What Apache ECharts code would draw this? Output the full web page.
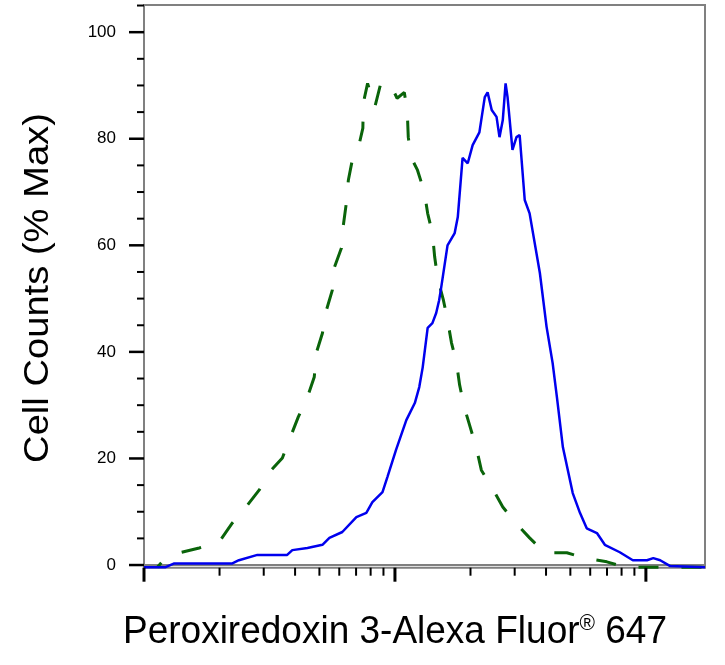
<!DOCTYPE html>
<html>
<head>
<meta charset="utf-8">
<script src="https://cdn.jsdelivr.net/npm/echarts@6/dist/echarts.min.js"></script>
<style>
html, body { margin: 0; padding: 0; background: #fff; }
#chart { width: 725px; height: 665px; }
</style>
</head>
<body>
<div id="chart"></div>
<script>
// 同型对照 (绿色虚线) —— x: 荧光强度 (对数), y: % Max
var isotypeX = [1.13, 1.18, 1.41, 1.66, 1.99, 2.25, 2.55, 2.88, 3.21, 3.56, 3.86, 4.12, 4.48, 4.77, 4.86, 5.14,
    5.33, 5.63, 5.74, 6.12, 6.23, 6.40, 6.52, 6.76, 7.14, 7.45, 7.48, 7.78, 8.31, 8.76, 9.5, 10.2, 10.9, 11.2,
    11.3, 11.6, 12.3, 13.1, 13.5, 14.1, 14.4, 14.8, 15.6, 16.2, 16.8, 17.6, 18.1, 18.9, 20.0, 21.1, 22.1, 24.3,
    26.9, 30.0, 34.4, 39.5, 48.4, 57.1, 69.9, 82.5, 172];
var isotypeY = [-0.4, 0.6, 2.4, 3.2, 4.3, 7.9, 10.9, 14.1, 17.8, 20.1, 24.4, 27.8, 31.5, 35.3, 39.8, 43.5,
    47.8, 51.6, 55.9, 59.5, 63.8, 67.9, 72.2, 76.0, 78.2, 82.0, 86.7, 90.4, 85.9, 90.2, 90.6, 87.6, 88.7, 85.0,
    80.3, 76.5, 74.1, 70.0, 66.0, 62.3, 57.8, 53.8, 49.7, 46.0, 41.7, 37.9, 33.8, 29.6, 25.7, 22.0, 17.8, 14.6,
    10.9, 8.1, 5.1, 2.3, 2.3, 1.3, 0.6, -0.4, -0.4];

// Peroxiredoxin 3 染色 (蓝色实线)
var stainedX = [1.0, 1.22, 1.32, 2.25, 2.39, 2.83, 3.72, 3.90, 4.48, 5.14, 5.48, 6.17, 7.02, 7.69, 8.13, 8.92,
    9.33, 10.1, 11.1, 12.0, 12.5, 12.9, 13.5, 14.1, 14.6, 15.0, 15.3, 16.2, 17.3, 17.8, 18.6, 19.5, 20.4, 21.7,
    22.8, 23.4, 24.3, 25.4, 26.1, 26.9, 27.6, 28.1, 29.4, 30.5, 31.4, 32.9, 34.4, 37.8, 40.2, 42.5, 44.2, 46.7,
    51.1, 54.6, 58.1, 63.8, 68.6, 78.7, 88.7, 101, 107, 114, 125, 172];
var stainedY = [-0.4, -0.4, 0.3, 0.3, 0.9, 1.9, 1.9, 2.8, 3.2, 3.8, 5.1, 6.2, 9.0, 9.8, 11.8, 13.7,
    16.5, 21.6, 27.2, 30.4, 33.4, 37.1, 44.5, 45.4, 47.3, 49.7, 52.2, 60.0, 62.3, 65.3, 76.4, 75.4, 78.8, 81.2,
    87.8, 88.7, 85.4, 84.1, 80.3, 83.5, 90.4, 87.8, 77.9, 80.3, 80.7, 68.5, 66.0, 54.8, 44.7, 37.9, 31.5, 22.1,
    13.5, 9.8, 6.9, 6.0, 3.8, 2.4, 0.9, 0.9, 1.3, 0.9, -0.2, -0.4];

// 刻度
var yLabelTicks = [0, 20, 40, 60, 80, 100];
var yMinorTicks = [5, 10, 15, 25, 30, 35, 45, 50, 55, 65, 70, 75, 85, 90, 95, 105];
var xMajorTicks = [1, 10, 100];
var xMinorTicks = [2, 3, 4, 5, 6, 7, 8, 9, 20, 30, 40, 50, 60, 70, 80, 90];

var xMin = 1, xMax = 172, yMin = -0.5, yMax = 105.1;

function zip(xs, ys) {
    return xs.map(function (x, i) { return [x, ys[i]]; });
}

// 刻度线: [x, y, 类型] 0=y主 1=y次 2=x主 3=x次
var tickData = [];
yLabelTicks.forEach(function (v) { tickData.push([xMin, v, 0]); });
yMinorTicks.forEach(function (v) { tickData.push([xMin, v, 1]); });
xMajorTicks.forEach(function (v) { tickData.push([v, yMin, 2]); });
xMinorTicks.forEach(function (v) { tickData.push([v, yMin, 3]); });

var tickLen = [15, 7, 14, 8];
var tickWidth = [2.5, 2, 3, 2];

var myChart = echarts.init(document.getElementById('chart'));
var font = '"Liberation Sans", Arial, Helvetica, sans-serif';

var option = {
    animation: false,
    backgroundColor: '#fff',
    grid: {
        left: 144,
        right: 20,
        top: 5,
        bottom: 97.3,
        show: true,
        borderColor: '#808080',
        borderWidth: 2
    },
    xAxis: {
        type: 'log',
        logBase: 10,
        min: xMin,
        max: xMax,
        axisLine: { lineStyle: { color: '#808080', width: 2 } },
        axisTick: { show: false },
        axisLabel: { show: false },
        splitLine: { show: false },
        minorTick: { show: false }
    },
    yAxis: {
        type: 'value',
        min: yMin,
        max: yMax,
        axisLine: { show: true, lineStyle: { color: '#808080', width: 2 } },
        axisTick: { show: false },
        splitLine: { show: false },
        axisLabel: {
            customValues: yLabelTicks,
            margin: 28,
            fontSize: 17,
            fontFamily: font,
            color: '#000'
        }
    },
    graphic: [
        {
            type: 'text',
            x: 395,
            y: 632,
            scaleY: 1.05,
            style: {
                text: 'Peroxiredoxin 3-Alexa Fluor{r|®} 647',
                font: '37px ' + font,
                fill: '#000',
                textAlign: 'center',
                textVerticalAlign: 'middle',
                rich: {
                    r: { fontSize: 21, fontFamily: font, verticalAlign: 'top', fill: '#000' }
                }
            }
        },
        {
            type: 'text',
            x: 38,
            y: 288,
            rotation: Math.PI / 2,
            scaleX: 1.09,
            style: {
                text: 'Cell Counts (% Max)',
                font: '35px ' + font,
                fill: '#000',
                textAlign: 'center',
                textVerticalAlign: 'middle'
            }
        }
    ],
    series: [
        {
            name: 'isotype',
            type: 'line',
            data: zip(isotypeX, isotypeY),
            showSymbol: false,
            symbol: 'none',
            lineStyle: { color: '#0a640a', width: 3, type: [20, 23], dashOffset: 14 },
            z: 3
        },
        {
            name: 'Peroxiredoxin 3',
            type: 'line',
            data: zip(stainedX, stainedY),
            showSymbol: false,
            symbol: 'none',
            lineStyle: { color: '#0000ee', width: 2.5 },
            z: 4
        },
        {
            name: 'ticks',
            type: 'custom',
            silent: true,
            data: tickData,
            encode: { x: 0, y: 1 },
            z: 5,
            renderItem: function (params, api) {
                var kind = api.value(2);
                var p = api.coord([api.value(0), api.value(1)]);
                var len = tickLen[kind];
                var shape = kind < 2
                    ? { x1: p[0] - len, y1: p[1], x2: p[0], y2: p[1] }
                    : { x1: p[0], y1: p[1], x2: p[0], y2: p[1] + len };
                return {
                    type: 'line',
                    shape: shape,
                    style: { stroke: '#000', lineWidth: tickWidth[kind] }
                };
            }
        }
    ]
};

myChart.setOption(option);
</script>
</body>
</html>
